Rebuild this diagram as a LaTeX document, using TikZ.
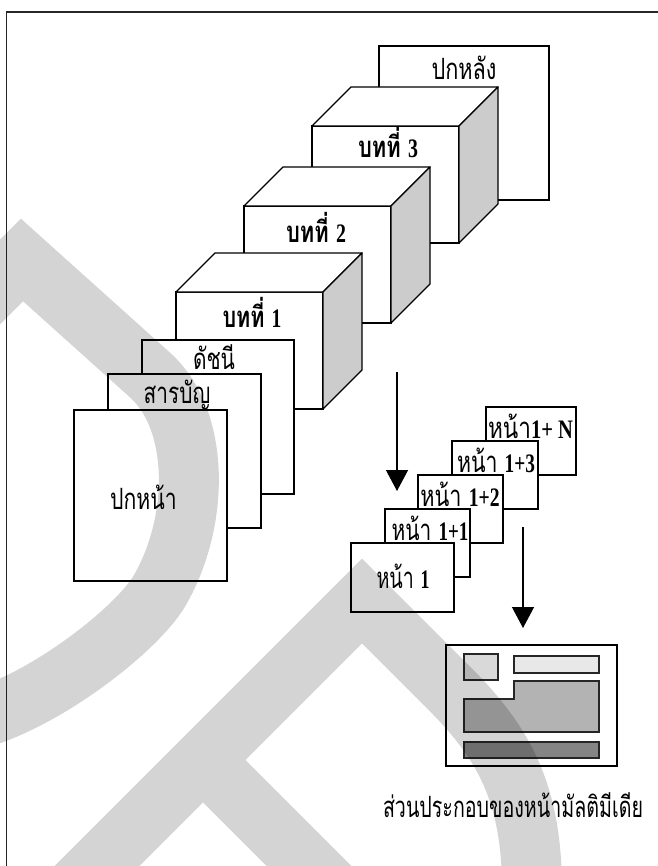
\documentclass[tikz,border=0pt]{standalone}
\usepackage{fontspec}
\usepackage{graphicx}
\usetikzlibrary{arrows.meta}
\newfontfamily\thai[Script=Thai]{Loma}
\newfontfamily\tms{Liberation Serif}
\definecolor{sideg}{HTML}{CCCCCC}
\definecolor{mga}{HTML}{D9D9D9}
\definecolor{mgb}{HTML}{E8E8E8}
\definecolor{mgc}{HTML}{B3B3B3}
\definecolor{mgd}{HTML}{858585}
\newcommand{\fitw}[2]{\resizebox{#1pt}{\height}{#2}}
\newcommand{\dg}[1]{{\tms\bfseries\fontsize{20}{22}\selectfont #1}}
\begin{document}
\begin{tikzpicture}[x=0.75pt,y=-0.75pt,
  frameline/.style={draw=black!85, line width=1.3pt},
  page/.style={draw=black, fill=white, line width=1pt, inner sep=0pt, outer sep=0pt, anchor=north west},
  face/.style={draw=black, fill=white, line width=1pt, line join=round},
  blk/.style={draw=black!85, line width=1pt, inner sep=0pt, outer sep=0pt, anchor=north west},
  lbl/.style={anchor=base, inner sep=0pt, font=\thai\fontsize{22}{24}\selectfont},
  arr/.style={draw=black, line width=1pt, -{Triangle[width=16.5pt,length=15.75pt]}},
  wmark/.style={draw=black, draw opacity=0.17, line width=45pt, line join=miter, line cap=butt}]
\useasboundingbox (0,0) rectangle (657,866);
\fill[white] (0,0) rectangle (657,866);
\draw[frameline] (6.5,870) -- (6.5,12) -- (660,12);

% back cover
\node[page, minimum width=127.5pt, minimum height=115.5pt] (back) at (379,46) {};
\node[lbl] (backt) at (464,80) {\fitw{48.75}{ปกหลัง}};

% chapter 3
\node[page, minimum width=110.25pt, minimum height=87.75pt] (c3) at (312,126) {};
\draw[face] (c3.north west) -- ++(39,-39) -- ++(147,0) -- (c3.north east) -- cycle;
\draw[face, fill=sideg] (c3.north east) -- ++(39,-39) -- ++(0,117) -- (c3.south east) -- cycle;
\node[lbl] (c3t) at (388,158) {\fitw{45}{\bfseries บทที่~\dg{3}}};

% chapter 2
\node[page, minimum width=110.25pt, minimum height=87.75pt] (c2) at (244,206) {};
\draw[face] (c2.north west) -- ++(39,-39) -- ++(147,0) -- (c2.north east) -- cycle;
\draw[face, fill=sideg] (c2.north east) -- ++(39,-39) -- ++(0,117) -- (c2.south east) -- cycle;
\node[lbl] (c2t) at (316,243) {\fitw{45}{\bfseries บทที่~\dg{2}}};

% chapter 1
\node[page, minimum width=110.25pt, minimum height=87.75pt] (c1) at (176,292) {};
\draw[face] (c1.north west) -- ++(39,-39) -- ++(147,0) -- (c1.north east) -- cycle;
\draw[face, fill=sideg] (c1.north east) -- ++(39,-39) -- ++(0,117) -- (c1.south east) -- cycle;
\node[lbl] (c1t) at (252,327) {\fitw{44.25}{\bfseries บทที่~\dg{1}}};

% index, contents, front cover
\node[page, minimum width=114pt, minimum height=115.5pt] (idx) at (142,340) {};
\node[lbl] (idxt) at (214,369) {\fitw{31.5}{ดัชนี}};
\node[page, minimum width=114.75pt, minimum height=115.5pt] (toc) at (108,374) {};
\node[lbl] (toct) at (177,403) {\fitw{50}{สารบัญ}};
\node[page, minimum width=114.75pt, minimum height=128.25pt] (front) at (74,410) {};
\node[lbl] (frontt) at (143.5,509) {\fitw{50}{ปกหน้า}};

% arrow 1
\coordinate (a1s) at (397,372);
\coordinate (a1e) at (397,491);
\draw[arr] (a1s) -- (a1e);

% small pages
\node[page, minimum width=67.5pt, minimum height=51pt] (pN) at (486,407) {};
\node[lbl] (pNt) at (530.5,438) {\fitw{63.75}{หน้า\dg{1+ N}}};
\node[page, minimum width=64.5pt, minimum height=51pt] (p13) at (452,441) {};
\node[lbl] (p13t) at (496,472) {\fitw{58.5}{หน้า~\dg{1+3}}};
\node[page, minimum width=63.75pt, minimum height=51pt] (p12) at (418,475) {};
\node[lbl] (p12t) at (460,506) {\fitw{59.5}{หน้า~\dg{1+2}}};
\node[page, minimum width=63.75pt, minimum height=51pt] (p11) at (385,509) {};
\node[lbl] (p11t) at (430,540) {\fitw{57.5}{หน้า~\dg{1+1}}};
\node[page, minimum width=77.25pt, minimum height=51.75pt] (p1) at (351,543) {};
\node[lbl] (p1t) at (403,588) {\fitw{39.75}{หน้า~\dg{1}}};

% arrow 2
\coordinate (a2s) at (523,527);
\coordinate (a2e) at (523,628);
\draw[arr] (a2s) -- (a2e);

% multimedia page
\node[page, minimum width=128.25pt, minimum height=90.75pt] (media) at (446,645) {};
\node[blk, fill=mga, minimum width=25.5pt, minimum height=19.5pt] (m1) at (464,654) {};
\node[blk, fill=mgb, minimum width=63.75pt, minimum height=12.75pt] (m2) at (514,656) {};
\draw[draw=black!85, line width=1pt, fill=mgc] (514,681) -- (599,681) -- (599,732) -- (464,732) -- (464,699) -- (514,699) -- cycle;
\node[blk, fill=mgd, minimum width=101.25pt, minimum height=12pt] (m4) at (464,742) {};
\node[lbl] (cap) at (513,817) {\fitw{195}{ส่วนประกอบของหน้ามัลติมีเดีย}};

% watermark
\begin{scope}
\clip (0,0) rectangle (657,866);
\draw[wmark]
  (-40,322) -- (22,260) -- (150,375) .. controls (200,420) and (200,520) .. (160,590) .. controls (140,625) and (60,690) .. (-10,715)
  (62,901) -- (362,601) -- (450,689) .. controls (505,744) and (532,795) .. (532,890)
  (203,760) -- (340,897);
\end{scope}
\end{tikzpicture}
\end{document}
